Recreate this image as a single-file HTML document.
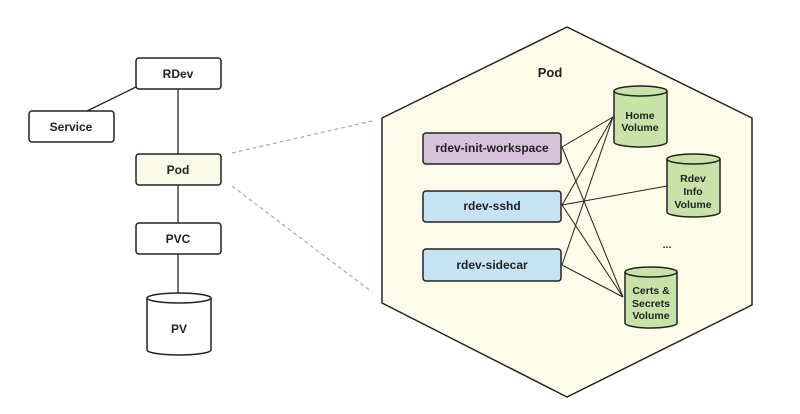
<!DOCTYPE html>
<html><head><style>body{margin:0;background:#fff}svg{display:block}text{font-family:"Liberation Sans",sans-serif;font-weight:bold;fill:#222;text-anchor:middle}</style></head><body>
<svg width="800" height="414" viewBox="0 0 800 414">
<g stroke="#222" stroke-width="1.3" fill="none">
<line x1="178" y1="89" x2="178" y2="154"/><line x1="178" y1="185" x2="178" y2="223"/><line x1="178" y1="254" x2="178" y2="296"/>
<line x1="136" y1="87" x2="87" y2="111"/>
</g>
<g stroke="#aaa" stroke-width="1.2" stroke-dasharray="4,3"><line x1="232" y1="153" x2="372" y2="121"/><line x1="232" y1="186" x2="372" y2="292"/></g>
<g stroke="#222" stroke-width="1.5">
<rect x="136" y="58" width="85" height="31" rx="3" fill="#fff"/>
<rect x="29" y="111" width="85" height="31" rx="3" fill="#fff"/>
<rect x="136" y="154" width="85" height="31" rx="3" fill="#fafae8"/>
<rect x="136" y="223" width="85" height="31" rx="3" fill="#fff"/>
<path d="M147 298 V350 A32 5 0 0 0 211 350 V298 A32 5 0 0 0 147 298 Z" fill="#fff"/><path d="M147 298 A32 5 0 0 0 211 298" fill="none"/>
<polygon points="567,27 752,118 752,305 567,397 382,303 382,118" fill="#fcfce9" stroke-linejoin="round"/>
<rect x="423" y="133" width="138" height="31" rx="3" fill="#d6c3d9"/>
<rect x="423" y="191" width="138" height="31" rx="3" fill="#c6e3f4"/>
<rect x="423" y="249" width="138" height="32" rx="3" fill="#c6e3f4"/>
</g>
<g stroke="#222" stroke-width="1">
<line x1="562" y1="147" x2="613" y2="117"/><line x1="562" y1="147" x2="623" y2="297"/>
<line x1="562" y1="205" x2="613" y2="117"/><line x1="562" y1="205" x2="667" y2="186"/><line x1="562" y1="205" x2="623" y2="297"/>
<line x1="562" y1="265" x2="613" y2="117"/><line x1="562" y1="265" x2="623" y2="297"/>
</g>
<g stroke="#222" stroke-width="1.5" fill="#c8e3a8">
<path d="M614 91 V142 A26.5 5 0 0 0 667 142 V91 A26.5 5 0 0 0 614 91 Z"/><path d="M614 91 A26.5 5 0 0 0 667 91" fill="none"/>
<path d="M667 159 V212 A26.5 5 0 0 0 720 212 V159 A26.5 5 0 0 0 667 159 Z"/><path d="M667 159 A26.5 5 0 0 0 720 159" fill="none"/>
<path d="M625 272 V323 A26 5 0 0 0 677 323 V272 A26 5 0 0 0 625 272 Z"/><path d="M625 272 A26 5 0 0 0 677 272" fill="none"/>
</g>
<g font-size="12">
<text x="178" y="78">RDev</text><text x="71" y="131">Service</text><text x="178" y="174">Pod</text><text x="178" y="243">PVC</text><text x="179" y="333">PV</text>
<text x="550" y="77" font-size="13">Pod</text>
<text x="492" y="152">rdev-init-workspace</text><text x="492" y="210">rdev-sshd</text><text x="492" y="269">rdev-sidecar</text>
</g>
<g font-size="10.5">
<text x="640" y="119">Home</text><text x="640" y="131">Volume</text>
<text x="693" y="182">Rdev</text><text x="693" y="195">Info</text><text x="693" y="208">Volume</text>
<text x="651" y="294">Certs &amp;</text><text x="651" y="307">Secrets</text><text x="651" y="319">Volume</text>
<text x="667" y="248">...</text>
</g>
</svg>
</body></html>
